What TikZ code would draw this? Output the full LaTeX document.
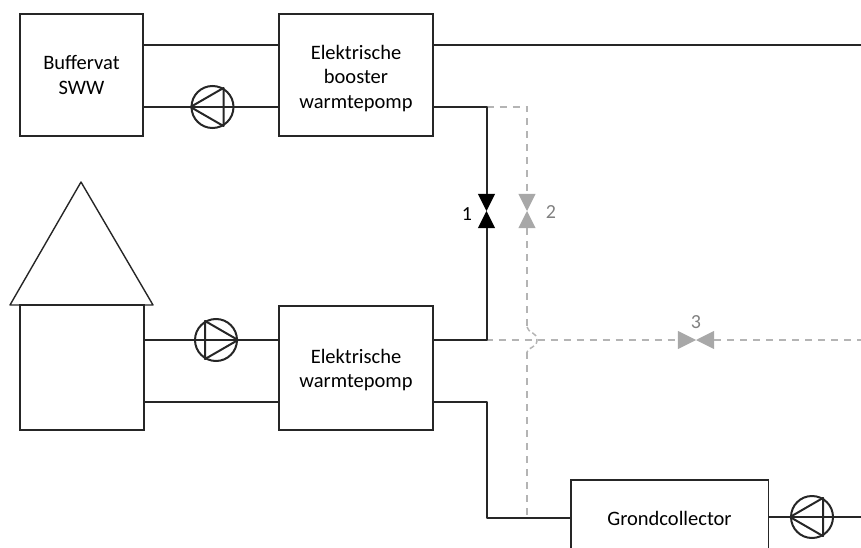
\documentclass[tikz,border=0pt]{standalone}
\usepackage{fontspec}
\setmainfont{Carlito}
\definecolor{pipegray}{HTML}{B4B4B4}
\definecolor{valvegray}{HTML}{A8A8A8}
\definecolor{linedark}{HTML}{262626}
\tikzset{unit/.style={draw=linedark,line width=1.4pt,inner sep=0pt,align=center,font=\fontsize{20.5}{24.5}\selectfont},
  unittext/.style={inner sep=0pt,align=center,font=\fontsize{20.5}{24.5}\selectfont},
  pipe/.style={draw=linedark,line width=2pt,line join=round},
  pipeoff/.style={draw=pipegray,line width=1.9pt,dash pattern=on 7pt off 6pt},
  pump/.style={circle,draw=linedark,line width=2pt,minimum size=42pt,inner sep=0pt},
  valve/.style={inner sep=0pt},
  valvenum/.style={font=\fontsize{20}{22}\selectfont}}

\begin{document}
\begin{tikzpicture}[x=1pt,y=-1pt]
  \path[use as bounding box] (0,0) rectangle (861,548);
  % units
  \node[unit,minimum width=123pt,minimum height=122pt] (buffer) at (81.5,75) {Buffervat\\SWW};
  \node[unit,minimum width=154pt,minimum height=122pt] (booster) at (356,75) {};
  \node[unittext] (boostertext) at (356,78.5) {Elektrische\\booster\\warmtepomp};
  \node[unit,minimum width=124pt,minimum height=125pt] (house) at (82,367.5) {};
  \node[unit,minimum width=154pt,minimum height=124pt] (wp) at (356,368) {};
  \node[unittext] (wptext) at (356,370) {Elektrische\\warmtepomp};
  \draw[draw=linedark,line width=1.4pt,line join=round] (81,182) coordinate (roofpeak) -- (153,305) coordinate (roofright) -- (10,305) coordinate (roofleft) -- cycle;
  \node[inner sep=0pt,minimum width=197pt,minimum height=68pt] (grond) at (669.5,514) {};
  \draw[draw=linedark,line width=1.4pt] (grond.south west) |- (grond.north east) -- (grond.south east);
  \node[unittext] (grondtext) at (669.5,518) {Grondcollector};
  % pumps
  \node[pump] (pumpsww) at (212.5,107) {};
  \node[pump] (pumphouse) at (216,340) {};
  \node[pump] (pumpgrond) at (812,517) {};
  \foreach \p/\ang in {pumpsww/180,pumphouse/0,pumpgrond/180}{
    \pgfmathsetmacro{\angb}{\ang+120}
    \pgfmathsetmacro{\angc}{\ang+240}
    \draw[draw=linedark,line width=2pt,line join=round] (\p.\ang) -- (\p.\angb) -- (\p.\angc) -- cycle;
  }
  % valves
  \node[valve,minimum width=17pt,minimum height=34pt] (valveone) at (486.5,211) {};
  \node[valve,minimum width=17pt,minimum height=34pt] (valvetwo) at (527,211) {};
  \node[valve,minimum width=36pt,minimum height=18pt] (valvethree) at (696,340) {};
  \fill[black] (valveone.north west) -- (valveone.north east) -- (valveone.south west) -- (valveone.south east) -- cycle;
  \fill[valvegray] (valvetwo.north west) -- (valvetwo.north east) -- (valvetwo.south west) -- (valvetwo.south east) -- cycle;
  \fill[valvegray] (valvethree.north west) -- (valvethree.south west) -- (valvethree.north east) -- (valvethree.south east) -- cycle;
  \node[valvenum] (numone) at (467,214) {1};
  \node[valvenum,text=gray] (numtwo) at (551,212) {2};
  \node[valvenum,text=gray] (numthree) at (696,322) {3};
  % free ends and corners
  \coordinate (topend) at (861,45);
  \coordinate (threeend) at (861,340);
  \coordinate (grondend) at (861,517);
  \coordinate (riser) at (486.5,107);
  \coordinate (drop) at (486.5,402);
  \coordinate (tee) at (527,518);
  \coordinate (jumpin) at (527,327);
  \coordinate (jumpout) at (527,352);
  \coordinate (jumptip) at (537,340);
  % dashed pipes first, the others lie on top
  \draw[pipeoff] (riser) -| (valvetwo.north);
  \draw[pipeoff] (valvetwo.south) -- (jumpin);
  \draw[draw=pipegray,line width=1.5pt,dash pattern=on 5pt off 3pt] (jumpin) .. controls (528,333) and (537,332) .. (jumptip) .. controls (537,348) and (528,347) .. (jumpout);
  \draw[pipeoff] (jumpout) -- (tee);
  \draw[pipeoff] (wp.east |- pumphouse) -- (valvethree.west);
  \draw[pipeoff] (valvethree.east) -- (threeend);
  % solid pipes
  \draw[pipe] (buffer.east |- topend) -- (booster.west |- topend);
  \draw[pipe] (booster.east |- topend) -- (topend);
  \draw[pipe] (buffer.east |- pumpsww) -- (booster.west |- pumpsww);
  \draw[pipe] (house.east |- pumphouse) -- (wp.west |- pumphouse);
  \draw[pipe] (house.east |- drop) -- (wp.west |- drop);
  \draw[pipe] (booster.east |- riser) -- (riser) -- (valveone.north);
  \draw[pipe] (wp.east |- pumphouse) -| (valveone.south);
  \draw[pipe] (wp.east |- drop) -- (drop) |- (grond.west |- tee);
  \draw[pipe] (grond.east |- grondend) -- (grondend);
\end{tikzpicture}
\end{document}
